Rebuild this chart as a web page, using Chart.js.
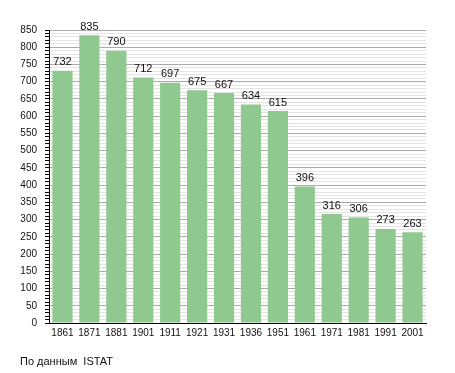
<!DOCTYPE html>
<html>
<head>
<meta charset="utf-8">
<script src="https://cdn.jsdelivr.net/npm/chart.js@4"></script>
<style>
  html, body { margin: 0; padding: 0; background: #fff; }
  #wrap { width: 455px; height: 373px; }
</style>
</head>
<body>
<div id="wrap"><canvas id="popChart" width="455" height="373"></canvas></div>
<script>
// Census years and population
const years = ['1861', '1871', '1881', '1901', '1911', '1921', '1931', '1936', '1951', '1961', '1971', '1981', '1991', '2001'];
const population = [732, 835, 790, 712, 697, 675, 667, 634, 615, 396, 316, 306, 273, 263];
const yMax = 850;
const sourceNote = 'По данным  ISTAT';

// Draw the value above each bar
const valueLabels = {
    id: 'valueLabels',
    afterDatasetsDraw(chart) {
        const ctx = chart.ctx;
        const meta = chart.getDatasetMeta(0);
        ctx.save();
        ctx.font = '11px "Liberation Sans", Arial, sans-serif';
        ctx.fillStyle = '#111';
        ctx.textAlign = 'center';
        ctx.textBaseline = 'bottom';
        meta.data.forEach(function(bar, i) {
            ctx.fillText(population[i], bar.x, bar.y - 3);
        });
        ctx.restore();
    }
};

// Source note under the chart
const footerNote = {
    id: 'footerNote',
    afterDraw(chart) {
        const ctx = chart.ctx;
        ctx.save();
        ctx.font = '11px "Liberation Sans", Arial, sans-serif';
        ctx.fillStyle = '#111';
        ctx.textAlign = 'left';
        ctx.textBaseline = 'middle';
        ctx.fillText(sourceNote, 20, 362);
        ctx.restore();
    }
};

const ctx = document.getElementById('popChart').getContext('2d');
new Chart(ctx, {
    type: 'bar',
    data: {
        labels: years,
        datasets: [{
            data: population,
            backgroundColor: 'rgb(144, 201, 144)',
            borderWidth: 0,
            barPercentage: 0.75,
            categoryPercentage: 1.0
        }]
    },
    options: {
        responsive: false,
        animation: false,
        layout: {
            padding: { top: 30, right: 29, bottom: 28, left: 0 }
        },
        plugins: {
            legend: { display: false },
            tooltip: { enabled: false }
        },
        scales: {
            x: {
                grid: { display: false },
                border: { display: true, color: '#000', width: 1 },
                ticks: {
                    color: '#111',
                    padding: -4,
                    maxRotation: 0,
                    autoSkip: false,
                    font: { family: '"Liberation Sans", Arial, sans-serif', size: 10 }
                },
                afterFit: function(scale) { scale.height = 22; }
            },
            y: {
                min: 0,
                max: yMax,
                border: { display: true, color: '#000', width: 1 },
                grid: {
                    color: function(c) {
                        return c.tick.value % 50 === 0 ? '#aaaaaa' : '#e4e4e4';
                    },
                    tickColor: '#000',
                    tickLength: 4
                },
                ticks: {
                    stepSize: 10,
                    autoSkip: false,
                    maxTicksLimit: 100,
                    color: '#111',
                    padding: 8,
                    font: { family: '"Liberation Sans", Arial, sans-serif', size: 10 },
                    callback: function(value) {
                        return value % 50 === 0 ? value : '';
                    }
                },
                afterFit: function(scale) { scale.width = 49; }
            }
        }
    },
    plugins: [valueLabels, footerNote]
});
</script>
</body>
</html>
